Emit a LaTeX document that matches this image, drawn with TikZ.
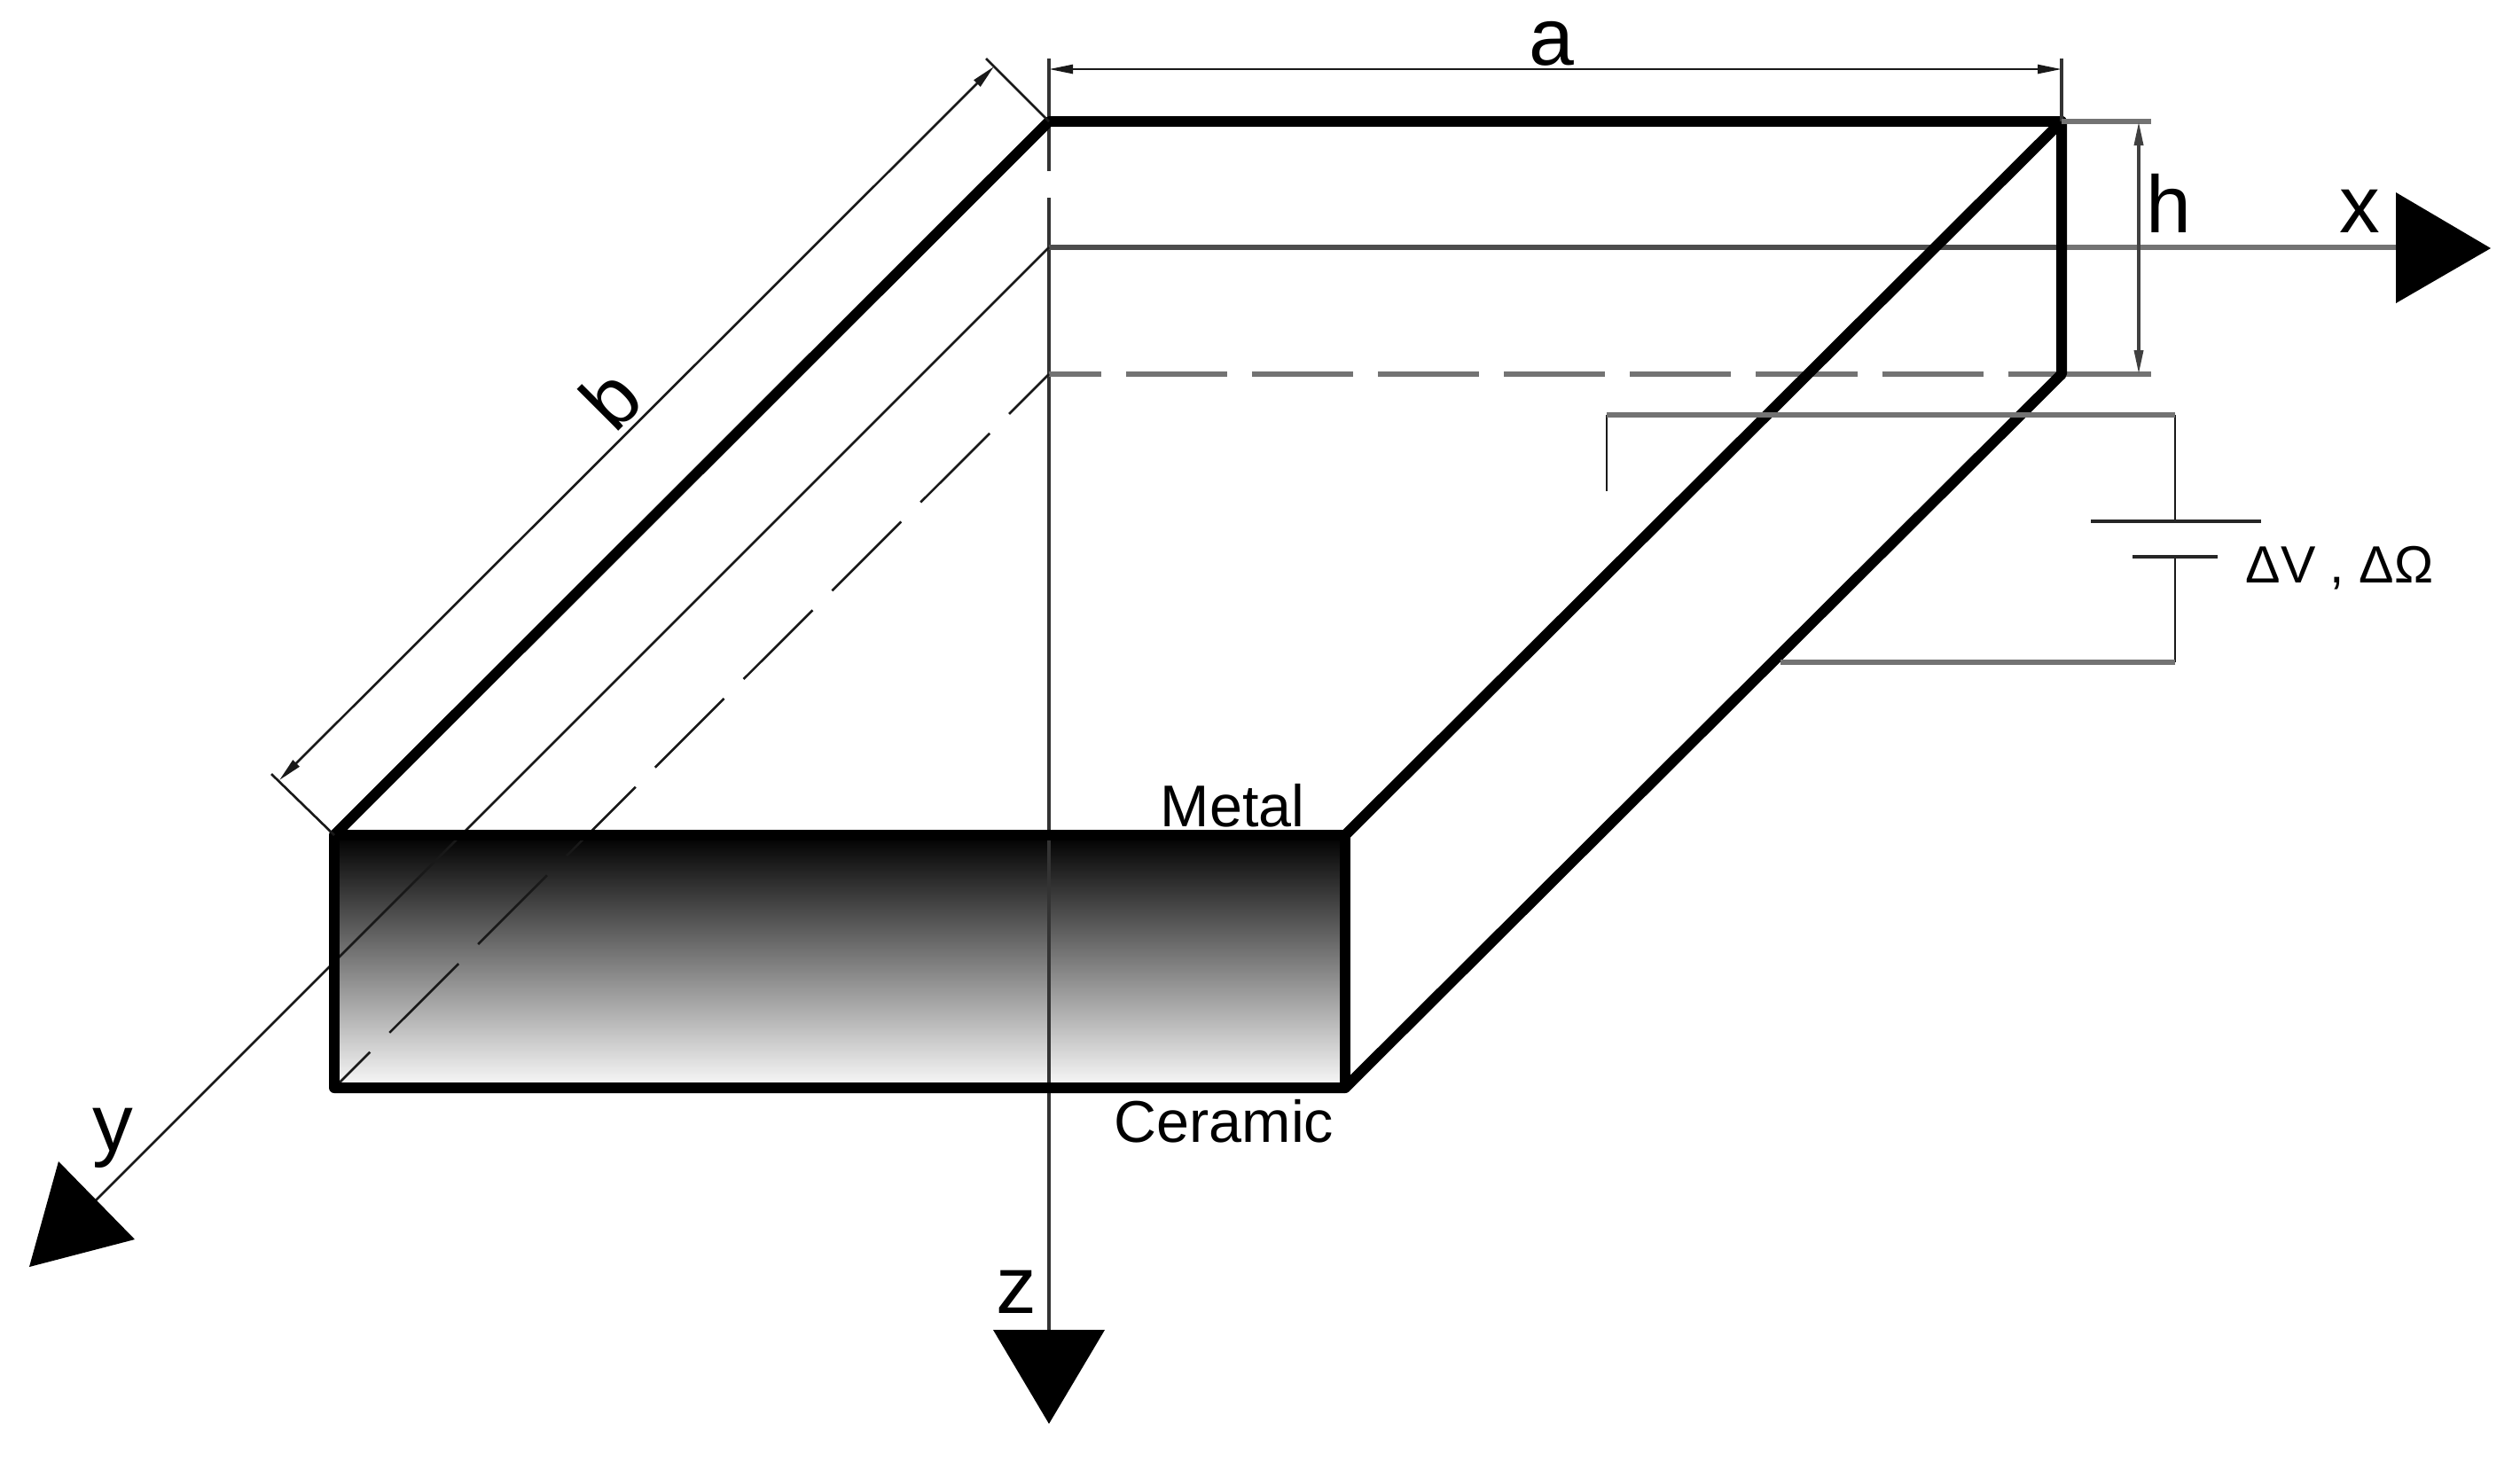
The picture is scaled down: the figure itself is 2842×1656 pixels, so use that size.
\documentclass[tikz,border=0pt]{standalone}
\usepackage{fontspec}
\setmainfont{Liberation Sans}
\usetikzlibrary{arrows.meta}
\tikzset{
  x=0.01cm,y=-0.01cm,
  thickedge/.style={line width=3.4pt,line cap=round,line join=round},
  hairline/.style={line width=0.75pt,black!90},
  vertline/.style={line width=1.2pt,black!80},
  darkline/.style={line width=1.5pt,black!70},
  greyline/.style={line width=1.7pt,black!55},
  dimline/.style={line width=0.75pt,black!90,{Stealth[length=0.27cm,width=0.1cm,inset=0pt]}-{Stealth[length=0.27cm,width=0.1cm,inset=0pt]}},
  bigtip/.style={fill=black,draw=none},
  biglabel/.style={inner sep=0pt,font=\fontsize{26}{30}\selectfont},
  smalllabel/.style={inner sep=0pt,font=\fontsize{18.9}{22}\selectfont},
  circuitlabel/.style={inner sep=0pt,font=\fontsize{16.8}{20}\selectfont},
}
\definecolor{metaltop}{gray}{0}
\definecolor{ceramicbot}{gray}{0.98}
\begin{document}
\begin{tikzpicture}
\useasboundingbox (0,0) rectangle (2842,1656);
% corners
\coordinate (A) at (1183,137);
\coordinate (B) at (2325,137);
\coordinate (C) at (2325,422);
\coordinate (M) at (1183,279);
\coordinate (D) at (1183,422);
\coordinate (FTL) at (377,942);
\coordinate (FTR) at (1517,942);
\coordinate (FBR) at (1517,1227);
\coordinate (FBL) at (377,1227);
% gradient face
\shade[top color=metaltop,bottom color=ceramicbot] (FTL) rectangle (FBR);
% axes
\coordinate (zs) at (1183,66);
\coordinate (zg1) at (1183,193);
\coordinate (zg2) at (1183,223);
\coordinate (ze) at (1183,1502);
\draw[vertline] (zs) -- (zg1);
\draw[vertline] (zg2) -- (ze);
\coordinate (xe) at (2704,279);
\draw[greyline] (B |- M) -- (xe);
\draw[darkline] (M) -- (B |- M);
\coordinate (ye) at (100,1362);
\draw[hairline] (M) -- (ye);
% tips
\path[bigtip] (2702,217) -- (2809,280) -- (2702,342) -- cycle;
\path[bigtip] (1120,1500) -- (1246,1500) -- (1183,1606) -- cycle;
\path[bigtip] (66,1310) -- (152,1398) -- (33,1429) -- cycle;
% hidden edges
\coordinate (hx1) at (2267,422);
\coordinate (hx2) at (2426,422);
\draw[greyline] (hx1) -- (hx2);
\draw[greyline,dash pattern=on 1.14cm off 0.28cm,dash phase=0.55cm] (D) -- (hx1);
\draw[hairline,dash pattern=on 1.10cm off 0.31cm,dash phase=0.53cm] (FBL) -- (D);
% solid edges
\draw[thickedge] (FTL) -- (A) -- (B) -- (C) -- (FBR) -- (FBL) -- cycle;
\draw[thickedge] (B) -- (FTR);
\draw[thickedge] (FTL) -- (FTR) -- (FBR);
% dimensions
\coordinate (a1) at (1183,78);
\coordinate (a2) at (2325,78);
\draw[dimline] (a1) -- (a2);
\coordinate (atop) at (2325,66);
\draw[vertline] (atop) -- (B);
\coordinate (h1) at (2412,137);
\coordinate (h2) at (2412,422);
\coordinate (hr) at (2426,137);
\draw[greyline] (B) -- (hr);
\draw[dimline,line width=1pt,black!75] (h1) -- (h2);
\coordinate (b1) at (1121,75);
\coordinate (b2) at (315,880);
\coordinate (bt1) at (1112,66);
\coordinate (bt2) at (306,873);
\draw[dimline] (b1) -- (b2);
\draw[hairline] (A) -- (bt1);
\draw[hairline] (FTL) -- (bt2);
% circuit
\coordinate (c1) at (1812,554);
\coordinate (c2) at (1812,468);
\coordinate (c3) at (2453,468);
\coordinate (c4) at (2453,588);
\coordinate (c5) at (2453,628);
\coordinate (c6) at (2453,747);
\coordinate (c7) at (2008,747);
\draw[hairline] (c1) -- (c2);
\draw[hairline] (c3) -- (c4);
\draw[hairline] (c5) -- (c6);
\draw[greyline,line cap=square] (c2) -- (c3);
\draw[greyline,line cap=square] (c6) -- (c7);
\coordinate (p1) at (2358,588);
\coordinate (p2) at (2550,588);
\coordinate (p3) at (2405,628);
\coordinate (p4) at (2501,628);
\draw[darkline,black!85,line width=1pt] (p1) -- (p2);
\draw[darkline,black!85,line width=1pt] (p3) -- (p4);
% labels
\node[biglabel,anchor=base] (la) at (1750,73) {a};
\node[biglabel,anchor=base west,rotate=45] (lb) at (693,491) {b};
\node[biglabel,anchor=base west] (lh) at (2420,262) {h};
\node[biglabel,anchor=base west] (lx) at (2638,262) {x};
\node[biglabel,anchor=base west] (ly) at (104,1298) {y};
\node[biglabel,anchor=base west] (lz) at (1123,1481) {z};
\node[smalllabel,anchor=base west] (lm) at (1308,932) {Metal};
\node[smalllabel,anchor=base west] (lc) at (1256,1288) {Ceramic};
\node[circuitlabel,anchor=base west] (lv) at (2532,657) {ΔV , ΔΩ};
\end{tikzpicture}
\end{document}
